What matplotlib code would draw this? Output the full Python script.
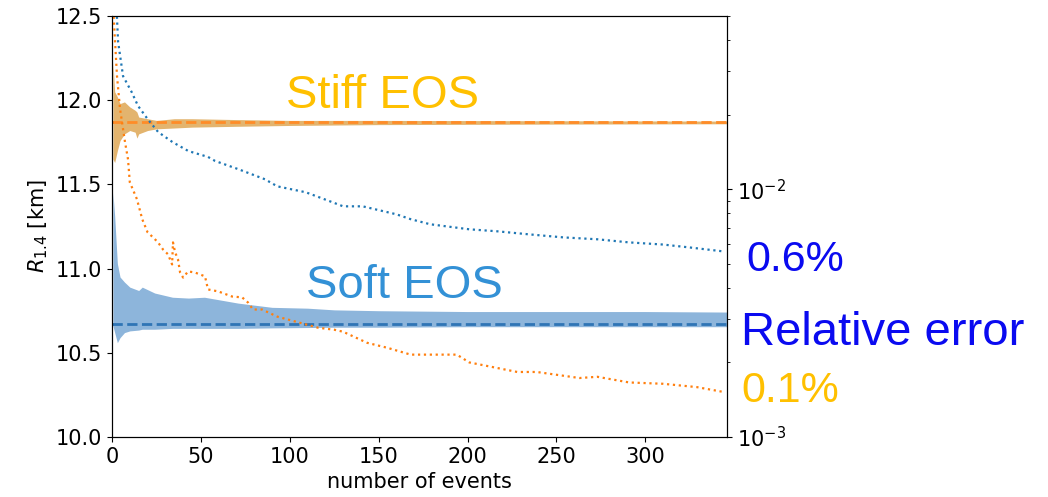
import numpy as np
import matplotlib.pyplot as plt

# credible band of R_1.4 vs number of events
stiff_n = [0.5, 1.5, 3, 4.5, 7, 10, 13, 14, 15, 20, 25, 35, 45, 70, 100, 150, 250, 346]
stiff_hi = [12.23, 12.05, 12.02, 11.98, 11.99, 11.96, 11.94, 11.93, 11.90, 11.89, 11.88,
            11.89, 11.89, 11.885, 11.88, 11.88, 11.878, 11.876]
stiff_lo = [11.65, 11.63, 11.70, 11.76, 11.80, 11.82, 11.81, 11.775, 11.80, 11.82, 11.83,
            11.835, 11.84, 11.845, 11.85, 11.855, 11.858, 11.86]
stiff_true = 11.87

soft_n = [0.5, 1.5, 3, 4.5, 7, 10, 15, 17, 24, 34, 43, 52, 71, 90, 110, 125, 150, 200, 250, 300, 346]
soft_hi = [11.45, 11.31, 11.03, 10.95, 10.92, 10.89, 10.87, 10.89, 10.855, 10.83, 10.825,
           10.83, 10.795, 10.77, 10.765, 10.755, 10.75, 10.745, 10.745, 10.745, 10.742]
soft_lo = [10.66, 10.62, 10.56, 10.59, 10.62, 10.63, 10.635, 10.64, 10.64, 10.645, 10.645,
           10.645, 10.645, 10.648, 10.65, 10.652, 10.652, 10.655, 10.655, 10.655, 10.655]
soft_true = 10.67

# relative error (right log axis)
err_soft_n = [2, 2.8, 3.4, 6.2, 11, 14.6, 20, 26, 34, 43, 54, 58, 71, 86, 93, 109, 124, 130,
              141, 160, 168, 179, 201, 217, 235, 254, 273, 291, 310, 325, 344]
err_soft = [0.06, 0.0488, 0.0394, 0.0286, 0.0247, 0.0217, 0.0192, 0.0170, 0.0155, 0.01425,
            0.0135, 0.0130, 0.01205, 0.01097, 0.01027, 0.00972, 0.00886, 0.00853, 0.00853,
            0.00792, 0.00757, 0.00722, 0.00689, 0.00676, 0.00657, 0.00639, 0.00628, 0.0061,
            0.00598, 0.00582, 0.00561]

err_stiff_n = [0.3, 1.7, 2.8, 4.5, 7.3, 9, 10, 14, 17, 20, 23, 25.9, 28.7, 31.5, 33.8, 34.3,
               35.5, 37.1, 38.3, 40, 42.8, 46.7, 52.3, 54, 59.7, 67.5, 73.2, 76.5, 79.3, 84.4,
               93, 105, 116, 125, 130, 143.5, 155, 168, 194, 201, 228, 239, 263, 273, 291,
               310, 329, 344]
err_stiff = [0.06, 0.0394, 0.0286, 0.0211, 0.0155, 0.0132, 0.01067, 0.00912, 0.00757, 0.0067,
             0.0064, 0.0061, 0.00571, 0.00546, 0.00497, 0.0061, 0.00556, 0.00521, 0.00461,
             0.0044, 0.00466, 0.00461, 0.00445, 0.00394, 0.00387, 0.00369, 0.00366, 0.00349,
             0.00327, 0.00327, 0.00306, 0.0029, 0.00276, 0.00271, 0.00266, 0.0024, 0.00229,
             0.00215, 0.00215, 0.002, 0.00183, 0.00183, 0.00173, 0.00175, 0.00166, 0.00164,
             0.00159, 0.00152]

fig = plt.figure(figsize=(10.48, 4.97), dpi=100)
ax = fig.add_axes([0.1069, 0.1207, 0.5868, 0.8471])

ax.fill_between(stiff_n, stiff_lo, stiff_hi, color='#E3B46E', lw=0)
ax.fill_between(soft_n, soft_lo, soft_hi, color='#8DB5DB', lw=0)
ax.axhline(stiff_true, color='#FF8C28', ls='--', lw=2)
ax.axhline(soft_true, color='#2F75B5', ls='--', lw=2)

ax.set_xlim(0, 346)
ax.set_ylim(10.0, 12.5)
ax.set_xticks([0, 50, 100, 150, 200, 250, 300])
ax.set_yticks([10.0, 10.5, 11.0, 11.5, 12.0, 12.5])
ax.tick_params(labelsize=15)
ax.set_xlabel('number of events', fontsize=15)
ax.set_ylabel(r'$R_{1.4}$ [km]', fontsize=15)

ax2 = ax.twinx()
ax2.plot(err_soft_n, err_soft, ls=':', color='#1f77b4', lw=1.6)
ax2.plot(err_stiff_n, err_stiff, ls=':', color='#ff7f0e', lw=1.6)
ax2.set_yscale('log')
ax2.set_ylim(1e-3, 5e-2)
ax2.set_xlim(0, 346)
ax2.tick_params(labelsize=15)

big = ['Liberation Sans', 'DejaVu Sans']
fig.text(286 / 1048, 1 - 108 / 497, 'Stiff EOS', color='#FFC000', fontsize=34, family=big)
fig.text(306 / 1048, 1 - 298 / 497, 'Soft EOS', color='#3391D6', fontsize=34, family=big)
fig.text(746 / 1048, 1 - 271 / 497, '0.6%', color='#0A0AF0', fontsize=31, family=big)
fig.text(741 / 1048, 1 - 345 / 497, 'Relative error', color='#0A0AF0', fontsize=34, family=big)
fig.text(741 / 1048, 1 - 402 / 497, '0.1%', color='#FFC000', fontsize=31, family=big)

fig.savefig('out.png', dpi=100)
